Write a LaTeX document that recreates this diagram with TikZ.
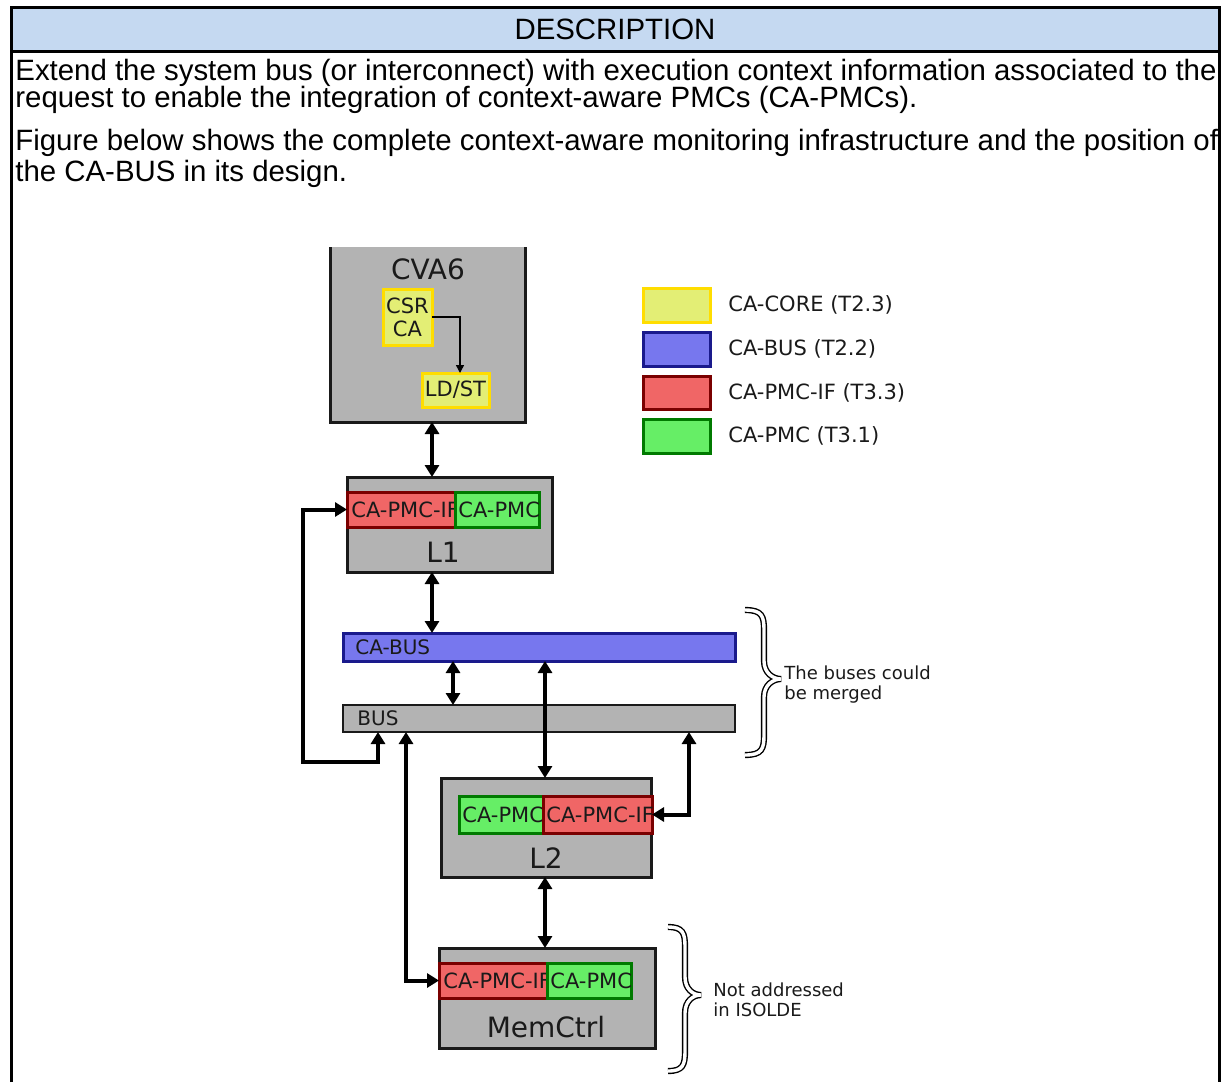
\documentclass[tikz,border=0pt]{standalone}
\usepackage{fontspec}
\setmainfont{Liberation Sans}
\newfontfamily\dvs{DejaVu Sans}
\usetikzlibrary{arrows.meta,fit,calc}
\definecolor{hdr}{HTML}{C5D9F1}
\definecolor{grayfill}{HTML}{B3B3B3}
\definecolor{boxedge}{HTML}{1A1A1A}
\definecolor{yelfill}{HTML}{E3EE75}
\definecolor{yeledge}{HTML}{FFDD00}
\definecolor{blufill}{HTML}{7777EE}
\definecolor{bluedge}{HTML}{1A1A8C}
\definecolor{redfill}{HTML}{F06666}
\definecolor{rededge}{HTML}{7A0000}
\definecolor{grnfill}{HTML}{66EE66}
\definecolor{grnedge}{HTML}{007A00}
\definecolor{txt}{HTML}{1A1A1A}
\begin{document}
\begin{tikzpicture}[x=0.5pt,y=-0.5pt,
 box/.style={inner sep=0pt, outer sep=0pt, line width=1.5pt, draw=boxedge, fill=grayfill},
 cabox/.style={inner sep=0pt, outer sep=0pt, line width=1.5pt},
 core/.style={cabox, draw=yeledge, fill=yelfill},
 cabus/.style={cabox, draw=bluedge, fill=blufill},
 pmcif/.style={cabox, draw=rededge, fill=redfill},
 pmc/.style={cabox, draw=grnedge, fill=grnfill},
 big/.style={font=\dvs\fontsize{14}{16}\selectfont, text=txt, inner sep=0pt},
 small/.style={font=\dvs\fontsize{10}{11.5}\selectfont, text=txt, inner sep=0pt},
 pmctext/.style={font=\dvs\fontsize{10.5}{12}\selectfont, text=txt, inner sep=0pt, anchor=west},
 legtext/.style={font=\dvs\fontsize{10.5}{12}\selectfont, text=txt, inner sep=0pt, anchor=west},
 note/.style={font=\dvs\fontsize{9}{10}\selectfont, text=txt, inner sep=0pt, align=left, anchor=west},
 biarrow/.style={line width=2pt, {Triangle[length=6pt,width=7pt]}-{Triangle[length=6pt,width=7pt]}},
 thinarrow/.style={line width=0.7pt, -{Triangle[length=4pt,width=4pt]}},
 brace/.style={draw=black, line width=0.7pt, double=white, double distance=1.7pt},
 body/.style={font=\fontsize{14.7}{17}\selectfont, inner sep=0pt, anchor=base west}
]
\useasboundingbox (0,0) rectangle (1225,1082);
% frame and header
\fill[hdr] (11,7) rectangle (1219,51);
\draw[line width=1.5pt] (11,1082) -- (11,7) -- (1219,7) -- (1219,1082);
\draw[line width=1.5pt] (11,51) -- (1219,51);
\node[font=\fontsize{14.7}{17}\selectfont, inner sep=0pt] (title) at (615,29) {DESCRIPTION};
\node[body] (t1) at (15,80) {Extend the system bus (or interconnect) with execution context information associated to the};
\node[body] (t2) at (15,107) {request to enable the integration of context-aware PMCs (CA-PMCs).};
\node[body] (t3) at (15,150) {Figure below shows the complete context-aware monitoring infrastructure and the position of};
\node[body] (t4) at (15,181) {the CA-BUS in its design.};

% CVA6
\node[box, draw=none, fit={(330,247)(525,422)}] (cva6) {};
\draw[line width=1.5pt, draw=boxedge] (cva6.north west) -- (cva6.south west) -- (cva6.south east) -- (cva6.north east);
\node[big] (cva6t) at (428,269) {CVA6};
\node[core, fit={(383,289)(432,345)}] (csr) {};
\node[font=\dvs\fontsize{10.5}{11.5}\selectfont, text=txt, inner sep=0pt, align=center] (csrt) at (csr.center) {CSR\\CA};
\node[core, fit={(422,373)(489,407)}] (ldst) {};
\node[font=\dvs\fontsize{10.5}{12}\selectfont, text=txt, inner sep=0pt] (ldstt) at (ldst.center) {LD/ST};
\coordinate (csrx) at (460,0);
\draw[thinarrow] (csr.east) -- (csr.east -| csrx) -- (csrx |- ldst.north);

% legend
\node[core, fit={(643,288)(710,322)}] (lg1) {};
\node[legtext] (lg1t) at (728,305) {CA-CORE (T2.3)};
\node[cabus, fit={(643,332)(710,366)}] (lg2) {};
\node[legtext] (lg2t) at (728,349) {CA-BUS (T2.2)};
\node[pmcif, fit={(643,376)(710,409)}] (lg3) {};
\node[legtext] (lg3t) at (728,392.5) {CA-PMC-IF (T3.3)};
\node[pmc, fit={(643,419)(710,453)}] (lg4) {};
\node[legtext] (lg4t) at (728,436) {CA-PMC (T3.1)};

% L1
\node[box, fit={(347,477)(552,572)}] (L1) {};
\node[pmcif, fit={(347,492)(455,527)}] (L1if) {};
\node[pmctext] (L1ift) at (351,509.5) {CA-PMC-IF};
\node[pmc, fit={(455,492)(539,527)}] (L1pmc) {};
\begin{scope}
\clip (L1pmc.north west) rectangle (L1pmc.south east);
\node[pmctext] (L1pmct) at (458,509.5) {CA-PMC};
\end{scope}
\node[big] (L1t) at (443,552) {L1};

% buses
\node[cabus, fit={(343,633)(735,661)}] (cabus) {};
\node[small, anchor=west] (cabust) at (355,647) {CA-BUS};
\node[box, line width=1.2pt, fit={(343,705)(735,732)}] (bus) {};
\node[small, anchor=west] (bust) at (357,718.5) {BUS};

% L2
\node[box, fit={(441,778)(651,877)}] (L2) {};
\node[pmc, fit={(459,796)(543,833)}] (L2pmc) {};
\node[pmctext] (L2pmct) at (462,814.5) {CA-PMC};
\node[pmcif, fit={(543,796)(652,833)}] (L2if) {};
\begin{scope}
\clip (L2if.north west) rectangle (L2if.south east);
\node[pmctext] (L2ift) at (546,814.5) {CA-PMC-IF};
\end{scope}
\node[big] (L2t) at (546,858) {L2};

% MemCtrl
\node[box, fit={(439,948)(655,1048)}] (mem) {};
\node[pmcif, fit={(439,963)(547,998)}] (memif) {};
\node[pmctext] (memift) at (443,980.5) {CA-PMC-IF};
\node[pmc, fit={(547,963)(631,998)}] (mempmc) {};
\begin{scope}
\clip (mempmc.north west) rectangle (mempmc.south east);
\node[pmctext] (mempmct) at (550,980.5) {CA-PMC};
\end{scope}
\node[big] (memt) at (546,1027) {MemCtrl};

% connectors
\coordinate (xa) at (432,0);
\draw[biarrow] (xa |- cva6.south) -- (xa |- L1.north);
\draw[biarrow] (xa |- L1.south) -- (xa |- cabus.north);
\coordinate (xb) at (453,0);
\draw[biarrow] (xb |- cabus.south) -- (xb |- bus.north);
\coordinate (xc) at (545,0);
\draw[biarrow] (xc |- cabus.south) -- (xc |- L2.north);
\draw[biarrow] (xc |- L2.south) -- (xc |- mem.north);
\coordinate (xd) at (689,0);
\draw[biarrow] (xd |- bus.south) -- (xd |- L2if.east) -- (L2if.east);
\coordinate (loopL) at (303,762);
\coordinate (xe) at (378,0);
\draw[biarrow] (xe |- bus.south) -- (xe |- loopL) -- (loopL) -- (loopL |- L1if.west) -- (L1if.west);
\coordinate (xf) at (406,0);
\draw[biarrow] (xf |- bus.south) -- (xf |- memif.west) -- (memif.west);

% braces and notes
\draw[brace] (745,610) .. controls (762,610) and (764,616) .. (764,630) -- (764,661) .. controls (764,673) and (773,679) .. (781,679) .. controls (773,679) and (764,685) .. (764,697) -- (764,735) .. controls (764,749) and (762,755) .. (745,755);
\node[note] (n1) at (784,685) {The buses could\\be merged};
\draw[brace] (668,927) .. controls (683,927) and (685,933) .. (685,947) -- (685,977) .. controls (685,989) and (693,995) .. (701,995) .. controls (693,995) and (685,1001) .. (685,1013) -- (685,1051) .. controls (685,1065) and (683,1071) .. (668,1071);
\node[note] (n2) at (713,1000) {Not addressed\\in ISOLDE};
\end{tikzpicture}
\end{document}
